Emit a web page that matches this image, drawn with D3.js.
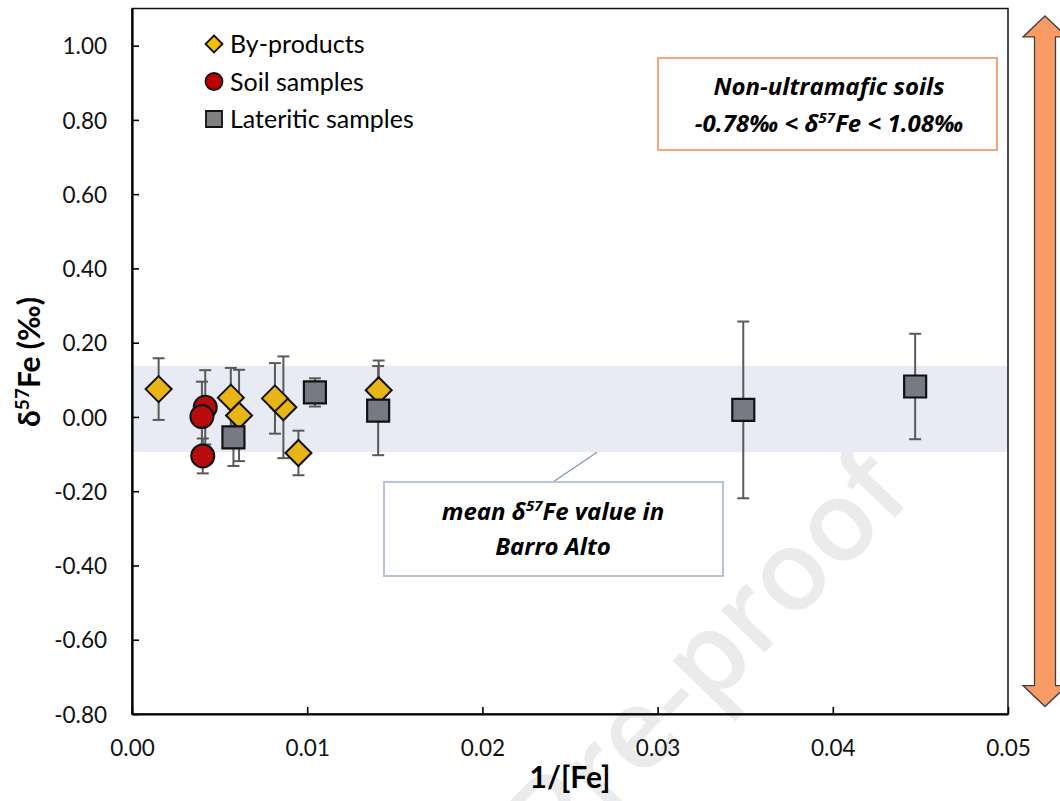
<!DOCTYPE html>
<html>
<head>
<meta charset="utf-8">
<script src="https://cdn.jsdelivr.net/npm/d3@7"></script>
<style>
  body { margin: 0; background: #fff; }
  text { font-family: Lato, 'Open Sans', sans-serif; fill: #000; }
  .note { font-family: 'Open Sans', sans-serif; font-size: 24px; font-weight: bold; font-style: italic; }
</style>
</head>
<body>
<svg id="chart"></svg>
<script>
// DATA: [1/[Fe], d57Fe, error]
const byProducts = [
  [0.00152, 0.075, 0.083],
  [0.00564, 0.052, 0.080],
  [0.00611, 0.004, 0.123],
  [0.00864, 0.026, 0.137],
  [0.00816, 0.050, 0.095],
  [0.00950, -0.097, 0.060],
  [0.01408, 0.072, 0.080]
]
const soilSamples = [
  [0.00418, 0.026, 0.100],
  [0.00399, 0.001, 0.094],
  [0.00404, -0.105, 0.047]
]
const lateriticSamples = [
  [0.00579, -0.055, 0.077],
  [0.01044, 0.066, 0.038],
  [0.01405, 0.017, 0.120],
  [0.03489, 0.019, 0.238],
  [0.04470, 0.082, 0.142]
]
const xTicks = [0, 0.01, 0.02, 0.03, 0.04, 0.05]
const yTicks = [-0.8, -0.6, -0.4, -0.2, 0, 0.2, 0.4, 0.6, 0.8, 1.0]
const barroAltoBand = [-0.095, 0.138]
const nonUltramaficRange = [-0.78, 1.08]
const legendLabels = ['By-products', 'Soil samples', 'Lateritic samples']

// MARGIN CONVENTION
const totalWidth = 1060,
  totalHeight = 801,
  margin = { left: 132, top: 8.5, right: 52, bottom: 87 },
  width = totalWidth - margin.left - margin.right,
  height = totalHeight - margin.top - margin.bottom

const svg = d3.select('#chart')
  .attr('width', totalWidth)
  .attr('height', totalHeight)

// plain hyphen for negatives, like the original
const fmt = d3.formatLocale({ decimal: '.', thousands: ',', grouping: [3], currency: ['', ''], minus: '-' }).format('.2f')

// SCALES
const x = d3.scaleLinear().domain([0, 0.05]).range([0, width])
const y = d3.scaleLinear().domain([-0.8, 1.1]).range([height, 0])

// WATERMARK
svg.append('text')
  .attr('transform', 'translate(915, 497) rotate(-46)')
  .attr('text-anchor', 'end')
  .style('font-family', "'Open Sans', sans-serif")
  .style('font-size', '112px')
  .style('font-weight', 600)
  .style('fill', '#ebebeb')
  .text('Journal Pre-proof')

const plot = svg.append('g')
  .attr('transform', `translate(${margin.left}, ${margin.top})`)

// MEAN BAND
plot.append('rect')
  .attr('x', 0)
  .attr('width', width)
  .attr('y', y(barroAltoBand[1]))
  .attr('height', y(barroAltoBand[0]) - y(barroAltoBand[1]))
  .style('fill', '#e8ebf4')

// FRAME
plot.append('rect')
  .attr('width', width)
  .attr('height', height)
  .style('fill', 'none')
  .style('stroke', '#111')
  .style('stroke-width', 1.5)

// AXES
const xAxis = plot.append('g')
  .attr('transform', `translate(0, ${height})`)
  .call(d3.axisBottom(x).tickValues(xTicks).tickFormat(fmt)
    .tickSizeInner(-7).tickSizeOuter(0).tickPadding(26))
const yAxis = plot.append('g')
  .call(d3.axisLeft(y).tickValues(yTicks).tickFormat(fmt)
    .tickSizeInner(-7).tickSizeOuter(0).tickPadding(25))

for (const ax of [xAxis, yAxis]) {
  ax.select('.domain').style('stroke', '#000').style('stroke-width', 2.2)
  ax.selectAll('.tick line').style('stroke', '#000').style('stroke-width', 1.6)
  ax.selectAll('.tick text')
    .style('font-family', "Lato, 'Open Sans', sans-serif")
    .style('font-size', '22.5px')
    .style('fill', '#111')
}
yAxis.selectAll('.tick text').attr('dy', '0.36em')
xAxis.selectAll('.tick text').attr('dy', '0.72em')

// AXIS TITLES
svg.append('text')
  .attr('x', 570)
  .attr('y', 788)
  .attr('text-anchor', 'middle')
  .style('font-size', '30px')
  .style('font-weight', 'bold')
  .text('1/[Fe]')

const yTitle = svg.append('text')
  .attr('transform', 'translate(40, 362) rotate(-90)')
  .attr('text-anchor', 'middle')
  .style('font-size', '30px')
  .style('font-weight', 'bold')
yTitle.append('tspan').text('δ')
yTitle.append('tspan').attr('dy', -11).style('font-size', '19px').text('57')
yTitle.append('tspan').attr('dy', 11).text('Fe (‰)')

// CALLOUT: MEAN VALUE
plot.append('line')
  .attr('x1', 553 - margin.left).attr('y1', 482 - margin.top)
  .attr('x2', 597 - margin.left).attr('y2', y(barroAltoBand[0]))
  .style('stroke', '#8497b0')
  .style('stroke-width', 1.3)
plot.append('rect')
  .attr('x', 384 - margin.left).attr('y', 482 - margin.top)
  .attr('width', 339).attr('height', 94)
  .style('fill', '#fff')
  .style('stroke', '#b4c3da')
  .style('stroke-width', 2)

const meanText = svg.append('text')
  .attr('class', 'note')
  .attr('x', 553).attr('y', 520)
  .attr('text-anchor', 'middle')
meanText.append('tspan').text('mean δ')
meanText.append('tspan').attr('dy', -9).style('font-size', '15px').text('57')
meanText.append('tspan').attr('dy', 9).text('Fe value in')
svg.append('text')
  .attr('class', 'note')
  .attr('x', 553).attr('y', 555)
  .attr('text-anchor', 'middle')
  .text('Barro Alto')

// CALLOUT: NON-ULTRAMAFIC SOILS
svg.append('rect')
  .attr('x', 658).attr('y', 58)
  .attr('width', 339).attr('height', 92)
  .style('fill', '#fff')
  .style('stroke', '#f7a57c')
  .style('stroke-width', 2)
svg.append('text')
  .attr('class', 'note')
  .attr('x', 829).attr('y', 95)
  .attr('text-anchor', 'middle')
  .text('Non-ultramafic soils')
const rangeText = svg.append('text')
  .attr('class', 'note')
  .attr('x', 829).attr('y', 132)
  .attr('text-anchor', 'middle')
rangeText.append('tspan').text('-0.78‰ < δ')
rangeText.append('tspan').attr('dy', -9).style('font-size', '15px').text('57')
rangeText.append('tspan').attr('dy', 9).text('Fe < 1.08‰')

// DOUBLE ARROW FOR NON-ULTRAMAFIC RANGE
const ax0 = 1045 - margin.left, headW = 22, headH = 21, shaftW = 10.5
const yTop = y(nonUltramaficRange[1]), yBot = y(nonUltramaficRange[0])
plot.append('path')
  .attr('d', `M${ax0},${yTop} L${ax0 + headW},${yTop + headH} L${ax0 + shaftW},${yTop + headH}
    L${ax0 + shaftW},${yBot - headH} L${ax0 + headW},${yBot - headH} L${ax0},${yBot}
    L${ax0 - headW},${yBot - headH} L${ax0 - shaftW},${yBot - headH} L${ax0 - shaftW},${yTop + headH}
    L${ax0 - headW},${yTop + headH} Z`)
  .style('fill', '#f89b65')
  .style('stroke', '#404040')
  .style('stroke-width', 1.3)

// ERROR BARS
const allPoints = byProducts.concat(soilSamples, lateriticSamples)
const bars = plot.append('g')
  .style('stroke', '#595959')
  .style('stroke-width', 2)
allPoints.forEach(d => {
  const cx = x(d[0])
  bars.append('line').attr('x1', cx).attr('x2', cx).attr('y1', y(d[1] + d[2])).attr('y2', y(d[1] - d[2]))
  for (const v of [d[1] + d[2], d[1] - d[2]]) {
    bars.append('line').attr('x1', cx - 6).attr('x2', cx + 6).attr('y1', y(v)).attr('y2', y(v))
  }
})

// MARKERS
const diamond = s => `M0,${-s} L${s},0 L0,${s} L${-s},0 Z`
const square = s => `M${-s},${-s} H${s} V${s} H${-s} Z`

plot.append('g').selectAll('path')
  .data(byProducts)
  .enter()
  .append('path')
    .attr('transform', d => `translate(${x(d[0])}, ${y(d[1])})`)
    .attr('d', diamond(13))
    .style('fill', '#e9b516')
    .style('stroke', '#111')
    .style('stroke-width', 2)

plot.append('g').selectAll('circle')
  .data(soilSamples)
  .enter()
  .append('circle')
    .attr('cx', d => x(d[0]))
    .attr('cy', d => y(d[1]))
    .attr('r', 11.5)
    .style('fill', '#b80c0c')
    .style('stroke', '#111')
    .style('stroke-width', 2)

plot.append('g').selectAll('path')
  .data(lateriticSamples)
  .enter()
  .append('path')
    .attr('transform', d => `translate(${x(d[0])}, ${y(d[1])})`)
    .attr('d', square(11))
    .style('fill', '#777a84')
    .style('stroke', '#111')
    .style('stroke-width', 2.2)

// LEGEND
const legend = svg.append('g').attr('transform', 'translate(214, 44)')
const symbols = [
  { d: diamond(8.5), fill: '#f5c000' },
  { d: null, fill: '#c00000' },
  { d: square(8), fill: '#808080' }
]
legendLabels.forEach((label, i) => {
  const row = legend.append('g').attr('transform', `translate(0, ${i * 37.5})`)
  if (symbols[i].d) {
    row.append('path').attr('d', symbols[i].d)
      .style('fill', symbols[i].fill).style('stroke', '#111').style('stroke-width', 1.8)
  } else {
    row.append('circle').attr('r', 8.5)
      .style('fill', symbols[i].fill).style('stroke', '#111').style('stroke-width', 1.8)
  }
  row.append('text')
    .attr('x', 16)
    .attr('dy', '0.36em')
    .style('font-size', '25px')
    .text(label)
})
</script>
</body>
</html>
